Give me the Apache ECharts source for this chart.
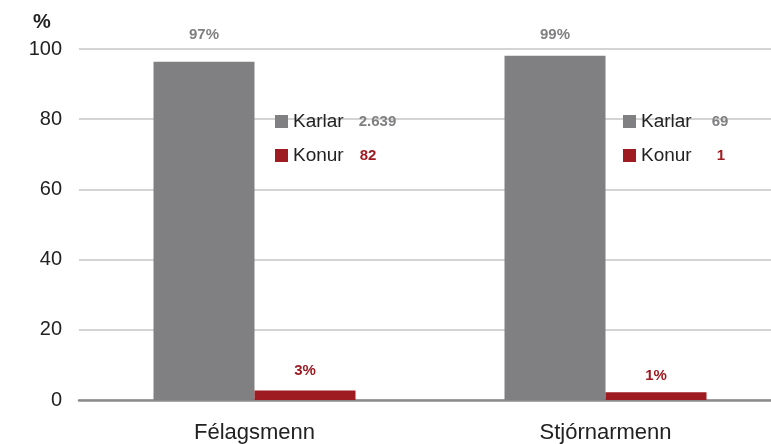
<!DOCTYPE html>
<html>
<head>
<meta charset="utf-8">
<script src="https://cdn.jsdelivr.net/npm/echarts@6/dist/echarts.min.js"></script>
<style>
html,body{margin:0;padding:0;background:#fff;overflow:hidden;}
/* plot runs a little past the right edge of the window, as in the reference */
#main{width:781px;height:444px;}
</style>
</head>
<body>
<div id="main"></div>
<script>
// data
var categories = ['Félagsmenn', 'Stjórnarmenn'];
var karlar = [96.4, 98.1];
var konur = [2.7, 2.2];
var karlarPct = ['97%', '99%'];
var konurPct = ['3%', '1%'];
var karlarCount = ['2.639', '69'];
var konurCount = ['82', '1'];
var yTicks = [0, 20, 40, 60, 80, 100];

var GREY = '#808083';
var RED = '#9e1b22';
var FONT = '"Liberation Sans", Arial, Helvetica, sans-serif';

var chart = echarts.init(document.getElementById('main'));

function legendFor(idx, left) {
    return {
        orient: 'vertical',
        left: left,
        top: 107,
        itemWidth: 13,
        itemHeight: 13,
        itemGap: 15,
        icon: 'rect',
        selectedMode: false,
        data: ['Karlar', 'Konur'],
        textStyle: {
            fontFamily: FONT,
            fontSize: 19,
            color: '#222',
            rich: {
                n: {fontFamily: FONT, fontSize: 19, color: '#222'},
                g: {fontFamily: FONT, fontSize: 15, fontWeight: 'bold', color: GREY, padding: [0, 0, 0, idx === 0 ? 15 : 20]},
                r: {fontFamily: FONT, fontSize: 15, fontWeight: 'bold', color: RED, padding: [0, 0, 0, idx === 0 ? 16 : 25]}
            }
        },
        formatter: function (name) {
            if (name === 'Karlar') return '{n|Karlar}{g|' + karlarCount[idx] + '}';
            return '{n|Konur}{r|' + konurCount[idx] + '}';
        }
    };
}

// label offsets above each bar, as placed in the reference
var karlarLabelGap = [19.5, 13];
var konurLabelGap = [12.5, 9];

var option = {
    animation: false,
    backgroundColor: '#fff',
    title: {
        text: '%',
        left: 28,
        top: 7,
        textStyle: {fontFamily: FONT, fontSize: 20, fontWeight: 'bold', color: '#222'}
    },
    legend: [legendFor(0, 270), legendFor(1, 618)],
    grid: {left: 79, right: 0, top: 49, bottom: 44, containLabel: false},
    xAxis: {
        type: 'category',
        data: categories,
        axisLine: {show: true, lineStyle: {color: '#8a8a8d', width: 2.5}},
        axisTick: {show: false},
        axisLabel: {fontFamily: FONT, fontSize: 22, color: '#222', margin: 22}
    },
    yAxis: {
        type: 'value',
        min: yTicks[0],
        max: yTicks[yTicks.length - 1],
        interval: 20,
        axisLine: {show: false},
        axisTick: {show: false},
        axisLabel: {fontFamily: FONT, fontSize: 20, color: '#222', margin: 17},
        splitLine: {lineStyle: {color: '#c6c6c6', width: 1.5}}
    },
    series: [
        {
            name: 'Karlar',
            type: 'bar',
            barWidth: 101,
            barGap: '0%',
            itemStyle: {color: GREY},
            label: {
                show: true,
                position: 'top',
                fontFamily: FONT,
                fontSize: 15,
                fontWeight: 'bold',
                color: GREY,
                formatter: function (p) { return karlarPct[p.dataIndex]; }
            },
            data: karlar.map(function (v, i) {
                return {value: v, label: {distance: karlarLabelGap[i]}};
            })
        },
        {
            name: 'Konur',
            type: 'bar',
            barWidth: 101,
            barGap: '0%',
            itemStyle: {color: RED},
            label: {
                show: true,
                position: 'top',
                fontFamily: FONT,
                fontSize: 15,
                fontWeight: 'bold',
                color: RED,
                formatter: function (p) { return konurPct[p.dataIndex]; }
            },
            data: konur.map(function (v, i) {
                return {value: v, label: {distance: konurLabelGap[i]}};
            })
        }
    ]
};

chart.setOption(option);
</script>
</body>
</html>
